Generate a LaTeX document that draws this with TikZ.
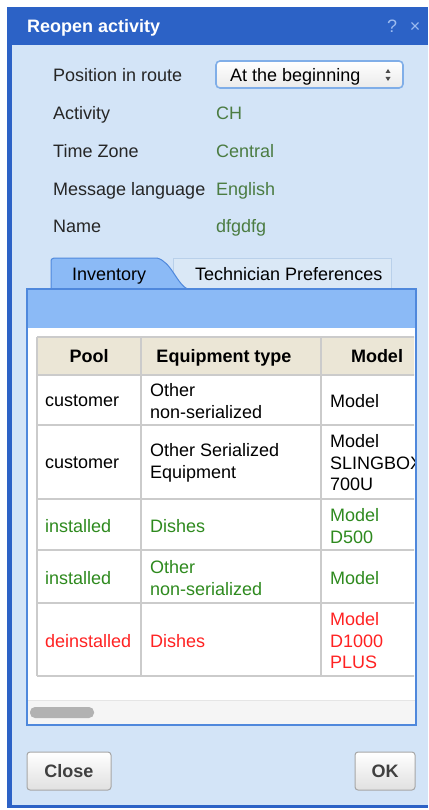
\documentclass[tikz,border=0pt]{standalone}
\usepackage{fontspec}
\setmainfont{Liberation Sans}
\usetikzlibrary{positioning}

\definecolor{titleblue}{HTML}{2C62C6}
\definecolor{bodyblue}{HTML}{D3E4F7}
\definecolor{bandblue}{HTML}{8BBAF6}
\definecolor{panelblue}{HTML}{4F88DC}
\definecolor{tabgrey}{HTML}{DAE8F6}
\definecolor{tabline}{HTML}{B9D0EA}
\definecolor{headbeige}{HTML}{EBE6D6}
\definecolor{gridgrey}{HTML}{CBCBCB}
\definecolor{valgreen}{HTML}{4B7C42}
\definecolor{cellgreen}{HTML}{2E8A1E}
\definecolor{cellred}{HTML}{FF2222}
\definecolor{focusblue}{HTML}{80AEE8}
\definecolor{iconblue}{HTML}{9DBCF0}

\newcommand\uifont{\fontsize{18}{21.5}\selectfont}

\tikzset{%
  field label/.style={
    anchor=base west,
    inner sep=0pt,
    font=\uifont,
    text=black!85
  },
  field value/.style={
    field label,
    text=valgreen
  },
  every cell/.style={
    anchor=west,
    align=left,
    inner sep=0pt,
    font=\uifont
  },
  head cell/.style={
    anchor=base,
    inner sep=0pt,
    font=\uifont\bfseries
  },
  ui button/.style={
    draw=black!35,
    line width=1pt,
    rounded corners=3pt,
    top color=white,
    bottom color=black!12,
    minimum height=38pt,
    inner sep=0pt,
    font=\uifont\bfseries,
    text=black!75
  },
  grid line/.style={
    draw=gridgrey,
    line width=1.2pt
  },
}

\begin{document}
\begin{tikzpicture}[x=1pt, y=-1pt]

\useasboundingbox [fill=white] (0,0) rectangle (428,810);

% dialog frame
\fill [titleblue] (7,7) rectangle (428,808);
\fill [bodyblue] (12,45) rectangle (428,805);

\node [anchor=base west, inner sep=0pt, font=\uifont\bfseries, text=white] (title) at (27,33) {Reopen activity};
\node [anchor=base, inner sep=0pt, font=\uifont, text=iconblue] (help) at (392,33) {?};
\node [anchor=base, inner sep=0pt, font=\uifont, text=iconblue] (shut) at (415,33) {×};

% fields
\foreach \l [count=\i] in {Position in route, Activity, Time Zone, Message language, Name}
  \node [field label] (label-\i) at (53, {82+37.75*(\i-1)}) {\l};

\foreach \v [count=\i from 2] in {CH, Central, English, dfgdfg}
  \node [field value] (value-\i) at (216, {82+37.75*(\i-1)}) {\v};

\node [draw=focusblue, line width=1.6pt, rounded corners=4pt, top color=white, bottom color=black!8,
  minimum width=187pt, minimum height=27pt] (route) at (309.5,74.5) {};
\node [field label, text=black] (route-text) at (230,82) {At the beginning};
\fill [black!70] (385.5,73) -- (390.5,73) -- (388,69) -- cycle;
\fill [black!70] (385.5,77) -- (390.5,77) -- (388,81) -- cycle;

% tabs
\filldraw [fill=tabgrey, draw=tabline, line width=1pt] (173,289) rectangle (391,258);
\filldraw [fill=bandblue, draw=panelblue, line width=1pt] (51,290) -- (51,262)
  .. controls (51,259) .. (54,258) -- (157,258)
  .. controls (172,262) and (176,284) .. (189,290);
\node [anchor=base west, inner sep=0pt, font=\uifont] (tab-1) at (72,280) {Inventory};
\node [anchor=base west, inner sep=0pt, font=\uifont] (tab-2) at (195,280) {Technician Preferences};

% panel
\filldraw [fill=white, draw=panelblue, line width=1.5pt] (27,289) rectangle (416,725);
\fill [bandblue] (28,290) rectangle (415,328);
\fill [black!4] (28,700) rectangle (415,724);
\draw [black!10] (28,700) -- (415,700);
\fill [black!30, rounded corners=5pt] (30,707) rectangle (94,718);

% table
\begin{scope}
\clip (28,328) rectangle (414,700);
\fill [headbeige] (37,337) rectangle (420,375);
\foreach \y in {337,375,425,499,550,603,676}
  \draw [grid line] (37,\y) -- (420,\y);
\foreach \x in {37,141,321}
  \draw [grid line] (\x,337) -- (\x,676);

\foreach \h/\x [count=\i] in {Pool/89, Equipment type/224, Model/377}
  \node [head cell] (head-\i) at (\x,362) {\h};

\foreach \p/\e/\m/\c/\y [count=\r] in {
    customer/{Other\\non-serialized}/Model/black/401,
    customer/{Other Serialized\\Equipment}/{Model\\SLINGBOX\\700U}/black/463,
    installed/Dishes/{Model\\D500}/cellgreen/526,
    installed/{Other\\non-serialized}/Model/cellgreen/578,
    deinstalled/Dishes/{Model\\D1000\\PLUS}/cellred/641}
{
  \node [every cell, text=\c] (pool-\r) at (45,\y) {\p};
  \node [every cell, text=\c] (type-\r) at (150,\y) {\e};
  \node [every cell, text=\c] (model-\r) at (330,\y) {\m};
}
\end{scope}

% buttons
\node [ui button, minimum width=84pt] (close) at (69,771) {Close};
\node [ui button, minimum width=60pt] (ok) at (385,771) {OK};

\end{tikzpicture}
\end{document}
